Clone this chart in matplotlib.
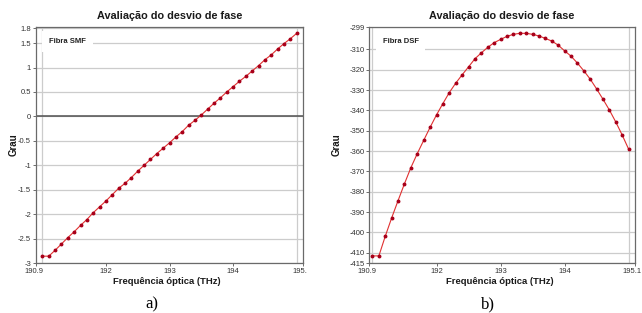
import matplotlib
matplotlib.use("Agg")
import matplotlib.pyplot as plt
import matplotlib.transforms as mtransforms

plt.rcParams['font.family'] = ['Liberation Sans', 'DejaVu Sans']

# ─── Dados ─────────────────────────────
freq = [191.0 + 0.1 * i for i in range(41)]

fase_smf = [-2.86, -2.86, -2.74, -2.61, -2.48, -2.36, -2.23, -2.11, -1.97, -1.85,
            -1.73, -1.60, -1.47, -1.37, -1.25, -1.12, -1.00, -0.88, -0.76, -0.65,
            -0.54, -0.42, -0.31, -0.18, -0.08, 0.03, 0.15, 0.27, 0.38, 0.50,
            0.61, 0.72, 0.82, 0.93, 1.04, 1.16, 1.26, 1.38, 1.49, 1.59, 1.70]

fase_dsf = [-411.5, -411.5, -401.8, -392.8, -384.3, -376.0, -368.1, -361.2, -354.7, -348.3,
            -342.2, -336.6, -331.2, -326.6, -322.5, -318.6, -314.6, -311.7, -309.0, -306.7,
            -305.1, -303.6, -302.6, -302.1, -302.1, -302.6, -303.4, -304.6, -305.9, -307.9,
            -310.7, -313.3, -316.7, -320.5, -324.6, -329.4, -334.5, -339.8, -345.7, -352.1,
            -359.0]

xt_smf = [190.9, 192, 193, 194, 195.1]
xt_smf_lbl = ["190.9", "192", "193", "194", "195."]
xt_dsf = [190.95, 192, 193, 194, 195.1]
xt_dsf_lbl = ["190.9", "192", "193", "194", "195.1"]
x_grade = [191, 192, 193, 194, 195]

yt_smf = [1.8, 1.5, 1, 0.5, 0, -0.5, -1, -1.5, -2, -2.5, -3]
yt_smf_lbl = ["1.8", "1.5", "1", "0.5", "0", "-0.5", "-1", "-1.5", "-2", "-2.5", "-3"]
yt_dsf = [-299, -310, -320, -330, -340, -350, -360, -370, -380, -390, -400, -410, -415]
yt_dsf_lbl = [str(v) for v in yt_dsf]

# ─── Figura ─────────────────────────────
fig = plt.figure(figsize=(6.42, 3.13), dpi=100)
ax1 = fig.add_axes([0.0561, 0.1597, 0.4159, 0.754])
ax2 = fig.add_axes([0.5752, 0.1597, 0.4139, 0.754])

paineis = [
    (ax1, fase_smf, (190.9, 195.1), (-3, 1.83), xt_smf, xt_smf_lbl, yt_smf, yt_smf_lbl, "Fibra SMF", -0.085),
    (ax2, fase_dsf, (190.95, 195.1), (-415, -299), xt_dsf, xt_dsf_lbl, yt_dsf, yt_dsf_lbl, "Fibra DSF", -0.123),
]

for ax, fase, xl, yl, xt, xtl, yt, ytl, nome, ylx in paineis:
    ax.set_xlim(*xl)
    ax.set_ylim(*yl)
    ax.set_xticks(xt)
    ax.set_xticklabels(xtl)
    ax.set_xticks(x_grade, minor=True)
    ax.set_yticks(yt)
    ax.set_yticklabels(ytl)
    ax.tick_params(axis="both", which="major", labelsize=5.5, colors="#555555",
                   labelcolor="#333333", length=2, width=0.6, pad=1.5)
    ax.tick_params(axis="x", which="minor", length=0)
    ax.grid(axis="x", which="minor", color="#cccccc", linewidth=0.9)
    ax.grid(axis="y", which="major", color="#cccccc", linewidth=0.9)
    ax.set_axisbelow(True)
    for s in ax.spines.values():
        s.set_color("#6a6a6a")
        s.set_linewidth(0.9)

    ax.plot(freq, fase, color="#e03030", linewidth=0.8, marker="o", markersize=1.8,
            markerfacecolor="#a8001a", markeredgecolor="#a8001a", zorder=3)

    ax.text(0.5, 1.047, "Avaliação do desvio de fase", transform=ax.transAxes,
            ha="center", va="center", fontsize=7.8, fontweight="bold", color="#1a1a1a")
    ax.text(0.49, -0.079, "Frequência óptica (THz)", transform=ax.transAxes,
            ha="center", va="center", fontsize=6.8, fontweight="bold", color="#1a1a1a")
    ax.text(ylx, 0.5, "Grau", transform=ax.transAxes, rotation=90,
            ha="center", va="center", fontsize=7, fontweight="bold", color="#1a1a1a")
    ax.text(0.05, 0.94, nome, transform=ax.transAxes, ha="left", va="center",
            fontsize=5.5, fontweight="bold", color="#222222", zorder=4,
            bbox=dict(facecolor="white", edgecolor="none", boxstyle="square,pad=0.9"))

    # rótulos das extremidades ficam um pouco para dentro, como no original
    lbls = ax.get_xticklabels()
    lbls[0].set_transform(lbls[0].get_transform() +
                          mtransforms.ScaledTranslation(-2 / 100, 0, fig.dpi_scale_trans))
    lbls[-1].set_transform(lbls[-1].get_transform() +
                           mtransforms.ScaledTranslation(-3 / 100, 0, fig.dpi_scale_trans))

ax1.axhline(0, color="#505050", linewidth=1.1, zorder=2)

fig.text(152 / 642, 1 - 304 / 313, "a)", ha="center", va="center",
         fontsize=12, family="Liberation Serif")
fig.text(488 / 642, 1 - 304 / 313, "b)", ha="center", va="center",
         fontsize=12, family="Liberation Serif")

fig.savefig("out.png", dpi=100)
